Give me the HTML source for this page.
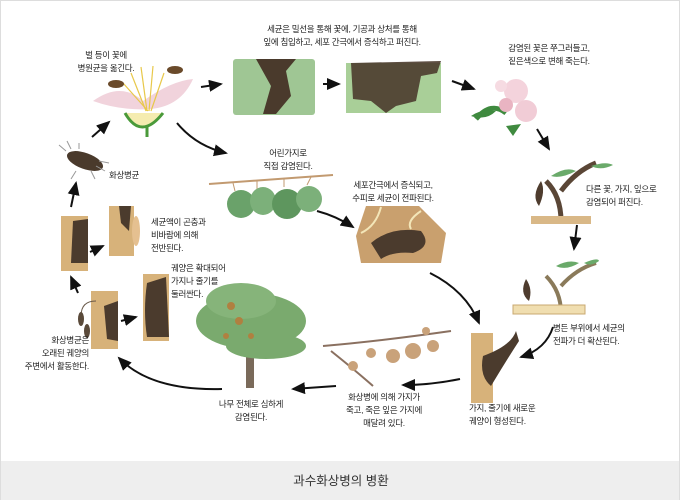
<!DOCTYPE html>
<html><head><meta charset="utf-8"><style>
html,body{margin:0;padding:0;background:#fff;}
#w{position:relative;width:680px;height:500px;overflow:hidden;background:#fff;border-left:1px solid #ddd;border-right:1px solid #ddd;border-top:1px solid #ddd;box-sizing:border-box;}
.t{position:absolute;font-family:"Liberation Sans","Noto Sans CJK KR",sans-serif;font-size:8.5px;line-height:13px;color:#222;white-space:nowrap;letter-spacing:-0.3px}
.c{transform:translateX(-50%);text-align:center}
.r{text-align:right}
#cap{position:absolute;left:0;top:460px;width:680px;height:40px;background:#eeeeee;font-family:"Liberation Sans","Noto Sans CJK KR",sans-serif;font-size:12.5px;color:#333;text-align:center;line-height:40px}
svg{position:absolute;left:0;top:0}
</style></head><body><div id="w">
<svg width="680" height="460" viewBox="0 0 680 460">
<defs><marker id="a" markerWidth="8" markerHeight="8" refX="6" refY="3" orient="auto"><path d="M0,0 L7,3 L0,6z" fill="#111"/></marker></defs>
<g stroke="#111" stroke-width="2" fill="none" marker-end="url(#a)">
<path d="M200,86 L220,83"/><path d="M322,83 L338,83"/><path d="M451,80 L473,88"/>
<path d="M536,128 L548,148"/><path d="M576,224 L573,248"/>
<path d="M552,326 Q545,348 520,356"/><path d="M459,378 Q430,384 402,384"/>
<path d="M335,385 L292,388"/><path d="M221,388 Q150,390 118,357"/>
<path d="M120,320 L135,316"/><path d="M77,292 L70,276"/>
<path d="M89,251 L102,245"/><path d="M70,206 L75,182"/>
<path d="M91,136 L108,121"/><path d="M176,122 Q195,145 225,152"/>
<path d="M316,210 Q335,215 352,226"/><path d="M429,272 Q465,290 478,322"/>
</g>
<!-- flower -->
<path d="M92,100 Q120,80 142,100 Q170,80 192,78 Q180,105 150,108 Q120,110 92,100z" fill="#f1d3dc"/>
<g stroke="#e8c84a" stroke-width="1.2"><path d="M145,110 L130,72"/><path d="M146,110 L140,66"/><path d="M148,110 L152,65"/><path d="M150,110 L163,72"/><path d="M147,110 L122,82"/></g>
<path d="M124,112 Q140,140 162,112" stroke="#4a9a3a" stroke-width="3" fill="#f5ecb0"/>
<path d="M146,125 L146,136" stroke="#4a9a3a" stroke-width="3"/>
<ellipse cx="115" cy="83" rx="8" ry="4" fill="#6a4a2a"/><ellipse cx="174" cy="69" rx="8" ry="4" fill="#6a4a2a"/>
<!-- tissues -->
<rect x="232" y="58" width="82" height="56" rx="3" fill="#9fc694"/>
<path d="M255,58 L295,58 L285,70 L290,95 L275,113 L262,113 L270,85z" fill="#4a3a2c"/>
<rect x="345" y="62" width="95" height="50" fill="#a9cf98"/>
<path d="M350,62 L440,60 L436,72 L420,75 L415,100 L395,105 L385,112 L370,100 L352,98z" fill="#4b3b2d" opacity=".9"/>
<!-- blossom -->
<path d="M475,118 Q490,100 505,112" stroke="#3f8a3f" stroke-width="5" fill="none"/>
<path d="M470,115 Q480,108 495,110 Q485,120 470,115z" fill="#3f8a3f"/>
<circle cx="515" cy="90" r="12" fill="#f4d3dc"/><circle cx="525" cy="110" r="11" fill="#f1ccd6"/><circle cx="505" cy="104" r="7" fill="#e9b4c2"/>
<circle cx="500" cy="85" r="6" fill="#f6dbe2"/>
<path d="M505,125 L512,135 L520,123z" fill="#3f8a3f"/>
<!-- branch 1 -->
<path d="M560,220 Q560,195 545,180 M560,190 Q575,170 595,162" stroke="#5a4636" stroke-width="5" fill="none"/>
<rect x="530" y="215" width="60" height="8" fill="#d9b887"/>
<path d="M550,175 Q565,165 575,170 Q560,178 550,175z" fill="#6aaa6a"/><path d="M590,165 Q605,160 612,164 Q600,170 590,165z" fill="#6aaa6a"/>
<path d="M540,180 Q530,195 538,205 Q545,190 540,180z" fill="#4e3c2e"/>
<!-- branch 2 -->
<path d="M560,312 Q560,290 545,275 M560,285 Q575,268 595,262" stroke="#8a7a5a" stroke-width="4" fill="none"/>
<rect x="512" y="304" width="72" height="9" fill="#f0deb0" stroke="#c9a870"/>
<path d="M555,265 Q568,258 578,262 Q565,270 555,265z" fill="#6aaa6a"/><path d="M583,262 Q597,256 598,260 Q590,266 583,262z" fill="#6aaa6a"/>
<path d="M525,278 Q518,292 528,300 Q532,288 525,278z" fill="#4e3c2e"/>
<!-- trunk with canker -->
<rect x="470" y="332" width="22" height="70" fill="#d7b27a"/>
<path d="M482,355 Q510,345 515,330 L518,340 Q505,360 490,385 Q478,375 482,355z" fill="#4b3b2d"/>
<!-- dead branch -->
<path d="M322,345 Q380,340 450,330 M330,350 Q355,370 372,385" stroke="#8a7060" stroke-width="2" fill="none"/>
<g fill="#c9a27a"><circle cx="392" cy="355" r="7"/><circle cx="412" cy="350" r="8"/><circle cx="432" cy="345" r="6"/><circle cx="370" cy="352" r="5"/><circle cx="352" cy="365" r="5"/><circle cx="425" cy="330" r="4"/></g>
<!-- tree -->
<rect x="245" y="355" width="8" height="32" fill="#7a6a5a"/>
<ellipse cx="250" cy="320" rx="55" ry="28" fill="#7aaa6e"/><ellipse cx="240" cy="300" rx="35" ry="18" fill="#86b47a"/><ellipse cx="265" cy="345" rx="40" ry="13" fill="#7aaa6e"/>
<g fill="#b08040"><circle cx="230" cy="305" r="4"/><circle cx="238" cy="320" r="4"/><circle cx="250" cy="335" r="3"/><circle cx="225" cy="335" r="3"/></g>
<!-- cambium -->
<rect x="90" y="290" width="27" height="58" fill="#d7b27a"/><path d="M103,305 L117,300 L117,340 L106,338z" fill="#4b3b2d"/>
<rect x="142" y="273" width="26" height="67" fill="#d7b27a"/><path d="M146,282 L165,276 L168,336 L146,336 Q142,310 146,282z" fill="#4b3b2d"/>
<path d="M95,300 Q80,300 80,315" stroke="#6a5a4a" fill="none"/><ellipse cx="80" cy="318" rx="3" ry="7" fill="#5a4a3a"/><ellipse cx="86" cy="330" rx="3" ry="7" fill="#5a4a3a"/>
<rect x="60" y="215" width="27" height="55" fill="#d7b27a"/><path d="M72,220 L87,218 L87,262 L70,262z" fill="#4b3b2d"/>
<rect x="108" y="205" width="25" height="50" fill="#d7b27a"/><path d="M118,205 L130,205 L128,230 L120,222z" fill="#4b3b2d"/>
<ellipse cx="135" cy="230" rx="4" ry="15" fill="#e5c090"/>
<!-- bacterium -->
<ellipse cx="84" cy="160" rx="19" ry="8" transform="rotate(20 84 160)" fill="#4a3a2c"/>
<g stroke="#999" stroke-width="1"><path d="M65,150 L58,144 M70,148 L66,140 M78,148 L78,142 M95,165 L104,170 M98,160 L108,162 M90,170 L94,178 M75,170 L70,178"/></g>
<!-- twig -->
<path d="M208,183 L332,174" stroke="#c29a70" stroke-width="2"/>
<g stroke="#c29a70" stroke-width="1"><path d="M232,182 L234,190 M256,180 L256,188 M283,178 L283,186 M310,176 L306,184"/></g>
<ellipse cx="240" cy="203" rx="14" ry="14" fill="#6aa26a"/><ellipse cx="262" cy="200" rx="13" ry="14" fill="#7cb07a"/>
<ellipse cx="286" cy="203" rx="15" ry="15" fill="#5e965e"/><ellipse cx="308" cy="198" rx="13" ry="13" fill="#7cb07a"/>
<!-- tan cells -->
<path d="M365,205 L418,205 L445,232 L440,262 L360,262 L355,235z" fill="#c9a06e"/>
<path d="M370,242 Q390,225 420,230 Q432,245 412,252 Q392,250 380,258z" fill="#4b3b2d"/>
<g stroke="#f3e6b8" stroke-width="2" fill="none"><path d="M380,206 Q375,225 360,232"/><path d="M420,210 Q405,220 410,228"/></g>
</svg>
<div class="t c" style="left:105px;top:48px">벌 등이 꽃에<br>병원균을 옮긴다.</div>
<div class="t c" style="left:341px;top:22px">세균은 밀선을 통해 꽃에, 기공과 상처를 통해<br>잎에 침입하고, 세포 간극에서 증식하고 퍼진다.</div>
<div class="t c" style="left:548px;top:41px">감염된 꽃은 쭈그러들고,<br>짙은색으로 변해 죽는다.</div>
<div class="t" style="left:585px;top:182px">다른 꽃, 가지, 잎으로<br>감염되어 퍼진다.</div>
<div class="t" style="left:552px;top:321px">병든 부위에서 세균의<br>전파가 더 확산된다.</div>
<div class="t" style="left:468px;top:401px">가지, 줄기에 새로운<br>궤양이 형성된다.</div>
<div class="t c" style="left:383px;top:390px">화상병에 의해 가지가<br>죽고, 죽은 잎은 가지에<br>매달려 있다.</div>
<div class="t c" style="left:250px;top:397px">나무 전체로 심하게<br>감염된다.</div>
<div class="t" style="left:170px;top:261px">궤양은 확대되어<br>가지나 줄기를<br>둘러싼다.</div>
<div class="t r" style="left:8px;width:80px;top:333px">화상병균은<br>오래된 궤양의<br>주변에서 활동한다.</div>
<div class="t" style="left:150px;top:215px">세균액이 곤충과<br>비바람에 의해<br>전반된다.</div>
<div class="t" style="left:108px;top:168px">화상병균</div>
<div class="t c" style="left:287px;top:146px">어린가지로<br>직접 감염된다.</div>
<div class="t c" style="left:392px;top:178px">세포간극에서 증식되고,<br>수피로 세균이 전파된다.</div>
<div id="cap">과수화상병의 병환</div>
</div></body></html>
